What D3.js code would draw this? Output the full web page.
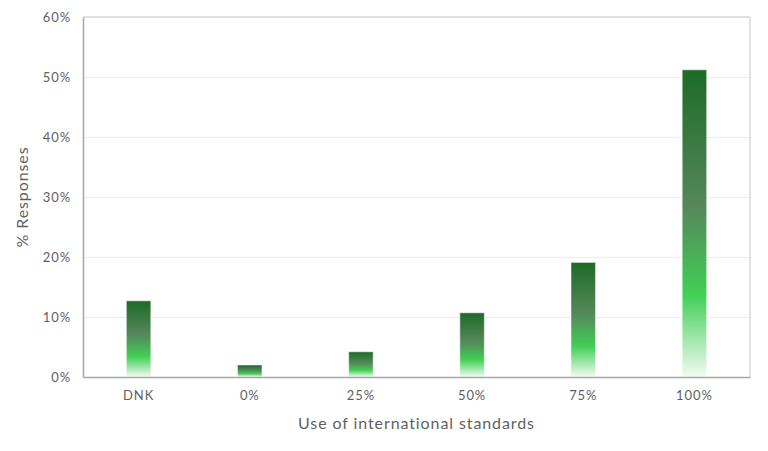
<!DOCTYPE html>
<html>
<head>
<meta charset="utf-8">
<script src="https://cdn.jsdelivr.net/npm/d3@7"></script>
<style>
  body { margin: 0; background: #fff; }
  svg text { font-family: "Century Gothic", "Lato", "Open Sans", sans-serif; fill: #5f5f5f; letter-spacing: 0.9px; }
</style>
</head>
<body>
<svg class="chart" width="768" height="451"></svg>
<script>
// data
const categories = ["DNK", "0%", "25%", "50%", "75%", "100%"];
const responses = [12.7, 2.0, 4.2, 10.7, 19.1, 51.2];
const yTicks = [0, 10, 20, 30, 40, 50, 60];

let margin = { top: 17, right: 18, bottom: 74, left: 83 },
    width = 768 - margin.left - margin.right,
    height = 451 - margin.top - margin.bottom;

let svg = d3.select(".chart");

let defs = svg.append("defs");
let grad = defs.append("linearGradient")
    .attr("id", "barFill")
    .attr("x1", 0).attr("y1", 0)
    .attr("x2", 0).attr("y2", 1);
grad.append("stop").attr("offset", "0%").attr("stop-color", "#1d6b27");
grad.append("stop").attr("offset", "45%").attr("stop-color", "#56885b");
grad.append("stop").attr("offset", "73%").attr("stop-color", "#40cf55");
grad.append("stop").attr("offset", "100%").attr("stop-color", "#f2fbf2");

let x = d3.scaleBand().domain(categories).range([0, width]);
let y = d3.scaleLinear().domain([0, 60]).range([height, 0]);

let g = svg.append("g")
    .attr("transform", "translate(" + margin.left + "," + margin.top + ")");

// gridlines
g.append("g")
    .attr("class", "grid")
    .call(d3.axisLeft(y).tickValues(yTicks).tickSize(-width).tickFormat(""))
    .call(s => s.select(".domain").remove())
    .selectAll("line").attr("stroke", "#ececec");

// frame top/right
g.append("line").attr("x1", 0).attr("x2", width).attr("y1", 0).attr("y2", 0)
    .attr("stroke", "#d9d9d9").attr("stroke-width", 1.5);
g.append("line").attr("x1", width).attr("x2", width).attr("y1", 0).attr("y2", height)
    .attr("stroke", "#d9d9d9").attr("stroke-width", 1.5);

// bars
let bw = 24.5;
g.selectAll(".bar")
    .data(responses)
    .enter().append("rect")
    .attr("class", "bar")
    .attr("x", (d, i) => x(categories[i]) + x.bandwidth() / 2 - bw / 2)
    .attr("y", d => y(d))
    .attr("width", bw)
    .attr("height", d => height - y(d))
    .attr("fill", "url(#barFill)")
    .attr("stroke", "rgba(255,255,255,0.5)")
    .attr("stroke-width", 1);

// y axis
let ya = g.append("g")
    .call(d3.axisLeft(y).tickValues(yTicks).tickSize(0).tickPadding(12).tickFormat(d => d + "%"));
ya.select(".domain").attr("stroke", "#a6a6a6").attr("stroke-width", 1.5);
ya.selectAll("text").style("font-size", "13px");

// x axis
let xa = g.append("g")
    .attr("transform", "translate(0," + height + ")")
    .call(d3.axisBottom(x).tickSize(0).tickPadding(14));
xa.select(".domain").attr("stroke", "#a6a6a6").attr("stroke-width", 1.5);
xa.selectAll("text").style("font-size", "13px");

// axis titles
svg.append("text")
    .attr("x", margin.left + width / 2)
    .attr("y", 429)
    .attr("text-anchor", "middle")
    .style("font-size", "16px")
    .text("Use of international standards");

svg.append("text")
    .attr("transform", "translate(28," + (margin.top + height / 2) + ") rotate(-90)")
    .attr("text-anchor", "middle")
    .style("font-size", "16px")
    .text("% Responses");
</script>
</body>
</html>
